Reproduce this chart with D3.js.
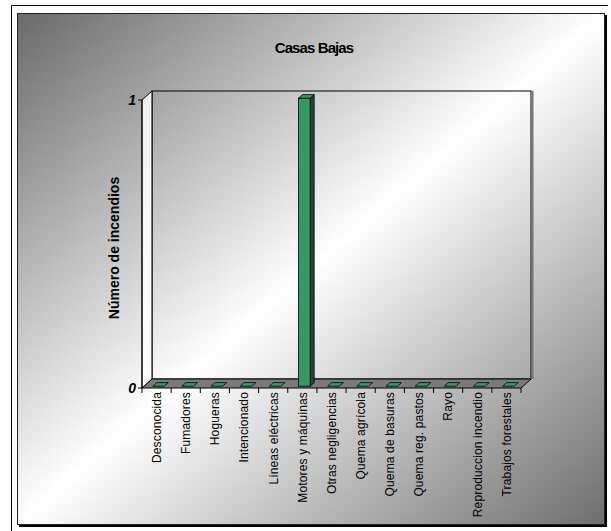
<!DOCTYPE html>
<html>
<head>
<meta charset="utf-8">
<script src="https://cdn.jsdelivr.net/npm/d3@7"></script>
<style>
  body { margin: 0; background: #fff; }
  svg { display: block; font-family: "Liberation Sans", Arial, sans-serif; }
</style>
</head>
<body>
<svg id="chart" width="611" height="531"></svg>
<script>
const title = 'Casas Bajas';
const yTitle = 'Número de incendios';
const categories = [
    'Desconocida', 'Fumadores', 'Hogueras', 'Intencionado', 'Líneas eléctricas',
    'Motores y máquinas', 'Otras negligencias', 'Quema agrícola', 'Quema de basuras',
    'Quema reg. pastos', 'Rayo', 'Reproduccion incendio', 'Trabajos forestales'
];
const values = [0, 0, 0, 0, 0, 1, 0, 0, 0, 0, 0, 0, 0];
const yTicks = [0, 1];

const svg = d3.select('#chart');
const W = 611, H = 531;

// panel background gradient
const defs = svg.append('defs');
const grad = defs.append('linearGradient').attr('id', 'bg')
    .attr('x1', 0).attr('y1', 0).attr('x2', 1).attr('y2', 1);
grad.append('stop').attr('offset', 0).attr('stop-color', '#6a6a6a');
grad.append('stop').attr('offset', 0.5).attr('stop-color', '#ffffff');
grad.append('stop').attr('offset', 1).attr('stop-color', '#6e6e6e');

// outer frame (top + left)
svg.append('line').attr('x1', 11.5).attr('x2', 608).attr('y1', 5.5).attr('y2', 5.5).attr('stroke', '#000');
svg.append('line').attr('x1', 11.5).attr('x2', 11.5).attr('y1', 5.5).attr('y2', H).attr('stroke', '#000');

// panel with shadow
svg.append('rect').attr('x', 19).attr('y', 15).attr('width', 588).attr('height', 512).attr('fill', '#000');
svg.append('rect').attr('x', 17.5).attr('y', 13.5).attr('width', 587).attr('height', 511)
    .attr('fill', 'url(#bg)').attr('stroke', '#222').attr('stroke-width', 1);

// scales
const x = d3.scaleBand().domain(categories).range([142, 521]);
const y = d3.scaleLinear().domain([0, 1]).range([388, 100]);
const D = { x: 10, y: -9 };            // depth vector of the 3D box
const t0 = 0.2, t1 = 0.6;              // bar depth span
const bw = x.bandwidth() / 2.5;

const pt = (px, py) => px + ',' + py;
const poly = (pts) => pts.map(p => pt(p[0], p[1])).join(' ');

const x0 = x.range()[0], x1 = x.range()[1];
const yTop = y(1), yBot = y(0);

// back wall
svg.append('rect').attr('x', x0 + D.x).attr('y', yTop + D.y)
    .attr('width', x1 - x0).attr('height', yBot - yTop)
    .attr('fill', 'none').attr('stroke', '#000');
svg.append('line').attr('x1', x1 + D.x + 1.5).attr('x2', x1 + D.x + 1.5)
    .attr('y1', yTop + D.y).attr('y2', yBot + D.y)
    .attr('stroke', '#777').attr('stroke-width', 2);

// left wall
svg.append('polygon')
    .attr('points', poly([[x0, yTop], [x0 + D.x, yTop + D.y], [x0 + D.x, yBot + D.y], [x0, yBot]]))
    .attr('fill', '#fff').attr('fill-opacity', 0.85).attr('stroke', '#000');

// floor
svg.append('polygon')
    .attr('points', poly([[x0, yBot], [x0 + D.x, yBot + D.y], [x1 + D.x, yBot + D.y], [x1, yBot]]))
    .attr('fill', '#7a7a7a').attr('stroke', '#000');

// x ticks
svg.append('g').selectAll('line')
    .data(d3.range(categories.length + 1))
    .enter().append('line')
    .attr('x1', i => x0 + i * x.step()).attr('x2', i => x0 + i * x.step())
    .attr('y1', yBot).attr('y2', yBot + 5)
    .attr('stroke', '#000');

// y ticks
const yAxisG = svg.append('g');
yAxisG.append('line').attr('x1', x0).attr('x2', x0).attr('y1', yTop).attr('y2', yBot).attr('stroke', '#000');
yAxisG.selectAll('line.tk').data(yTicks).enter().append('line').attr('class', 'tk')
    .attr('x1', x0 - 4).attr('x2', x0).attr('y1', d => y(d)).attr('y2', d => y(d))
    .attr('stroke', '#000');
yAxisG.selectAll('text').data(yTicks).enter().append('text')
    .attr('x', x0 - 6).attr('y', d => y(d)).attr('dy', '0.36em')
    .attr('text-anchor', 'end').attr('font-size', 14).attr('font-weight', 'bold')
    .attr('font-style', 'italic').text(d => d);

// bars
const bars = svg.append('g');
categories.forEach((c, i) => {
    const v = values[i];
    const bx = x(c) + (x.bandwidth() - bw) / 2 + D.x * t0;
    const by0 = y(0) + D.y * t0;
    const by1 = y(v) + D.y * t0;
    const dx = D.x * (t1 - t0), dy = D.y * (t1 - t0);
    if (v > 0) {
        bars.append('polygon')
            .attr('points', poly([[bx + bw, by1], [bx + bw + dx, by1 + dy], [bx + bw + dx, by0 + dy], [bx + bw, by0]]))
            .attr('fill', '#1d4a33').attr('stroke', '#000').attr('stroke-width', 0.8);
        bars.append('rect').attr('x', bx).attr('y', by1).attr('width', bw).attr('height', by0 - by1)
            .attr('fill', '#339966').attr('stroke', '#000').attr('stroke-width', 0.8);
    }
    bars.append('polygon')
        .attr('points', poly([[bx, by1], [bx + dx, by1 + dy], [bx + bw + dx, by1 + dy], [bx + bw, by1]]))
        .attr('fill', '#339966').attr('stroke', '#000').attr('stroke-width', 0.8);
});

// category labels
svg.append('g').selectAll('text').data(categories).enter().append('text')
    .attr('transform', d => `translate(${x(d) + x.bandwidth() / 2},${yBot + 4}) rotate(-90)`)
    .attr('text-anchor', 'end').attr('dy', '0.36em').attr('font-size', 12)
    .attr('letter-spacing', 0.15)
    .text(d => d);

// titles
svg.append('text').attr('x', 314).attr('y', 53).attr('text-anchor', 'middle')
    .attr('font-size', 15).attr('font-weight', 'bold').attr('letter-spacing', -0.9).text(title);
svg.append('text').attr('transform', `translate(119,${(yTop + yBot) / 2 + 4}) rotate(-90)`)
    .attr('text-anchor', 'middle').attr('font-size', 14).attr('font-weight', 'bold').text(yTitle);
</script>
</body>
</html>
